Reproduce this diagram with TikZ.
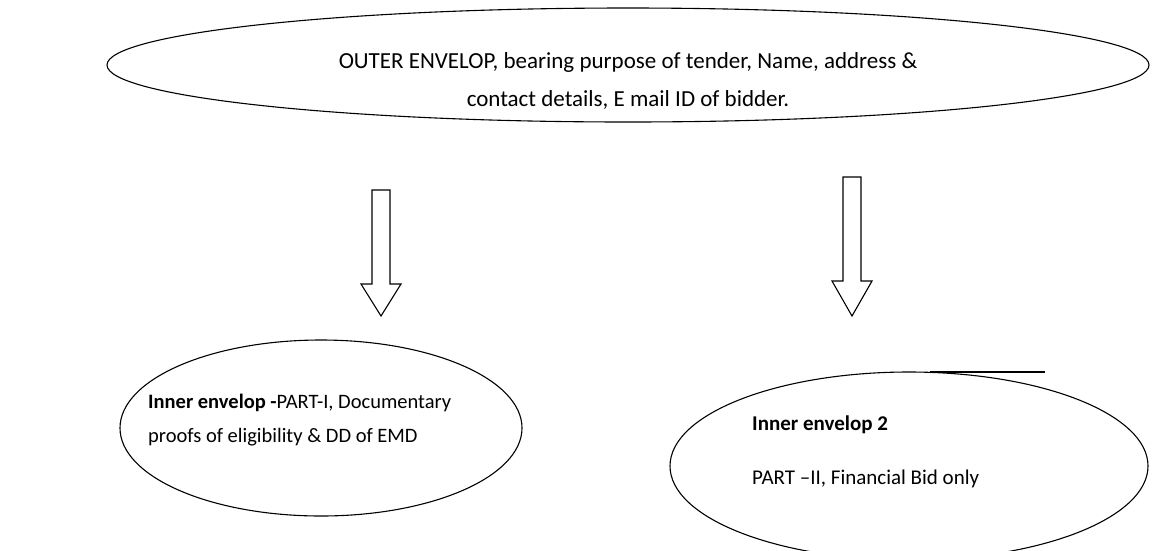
\documentclass[tikz,border=0pt]{standalone}
\usepackage{fontspec}
\setmainfont{Carlito}
\usetikzlibrary{shapes.geometric}

\tikzset{
  envelop/.style={draw=black, ellipse, line width=1.1pt, inner sep=0pt},
  envtext/.style={inner sep=0pt},
  hollowarrow/.style={draw=black, line width=1.1pt, line join=miter}
}

\begin{document}
\begin{tikzpicture}[x=1pt, y=-1pt]
\useasboundingbox (0,0) rectangle (1172,550);

% outer envelop
\node[envelop, minimum width=1042pt, minimum height=114pt] (outer) at (628,65) {};
\node[envtext, align=center, font=\fontsize{23}{38}\selectfont] (outertext) at (628,81)
  {OUTER ENVELOP, bearing purpose of tender, Name, address \&\\contact details, E mail ID of bidder.};

% inner envelops
\node[envelop, minimum width=402pt, minimum height=176pt] (inner1) at (321,428) {};
\node[envtext, align=left, anchor=west, font=\fontsize{20.5}{34}\selectfont] (inner1text) at (148,420)
  {\textbf{Inner envelop -}PART-I, Documentary\\proofs of eligibility \& DD of EMD};

\node[envelop, minimum width=478pt, minimum height=188pt] (inner2) at (909,466) {};
\node[envtext, align=left, anchor=west, font=\fontsize{21}{54}\selectfont] (inner2text) at (752,452)
  {\textbf{Inner envelop 2}\\PART --II, Financial Bid only};

% block arrows
\coordinate (ltop) at (381,190);
\coordinate (ltip) at (381,316);
\draw[hollowarrow] ([xshift=-9pt]ltop) -- ([xshift=9pt]ltop) -- ++(0,94) -- ++(11,0)
  -- (ltip) -- ++(-20,-32) -- ++(11,0) -- cycle;

\coordinate (rtop) at (852,177);
\coordinate (rtip) at (852,316);
\draw[hollowarrow] ([xshift=-9pt]rtop) -- ([xshift=9pt]rtop) -- ++(0,104) -- ++(11,0)
  -- (rtip) -- ++(-20,-35) -- ++(11,0) -- cycle;

% stray rule above inner envelop 2
\coordinate (rulea) at (930,372);
\coordinate (ruleb) at (1045,372);
\draw[line width=2pt] (rulea) -- (ruleb);
\end{tikzpicture}
\end{document}
